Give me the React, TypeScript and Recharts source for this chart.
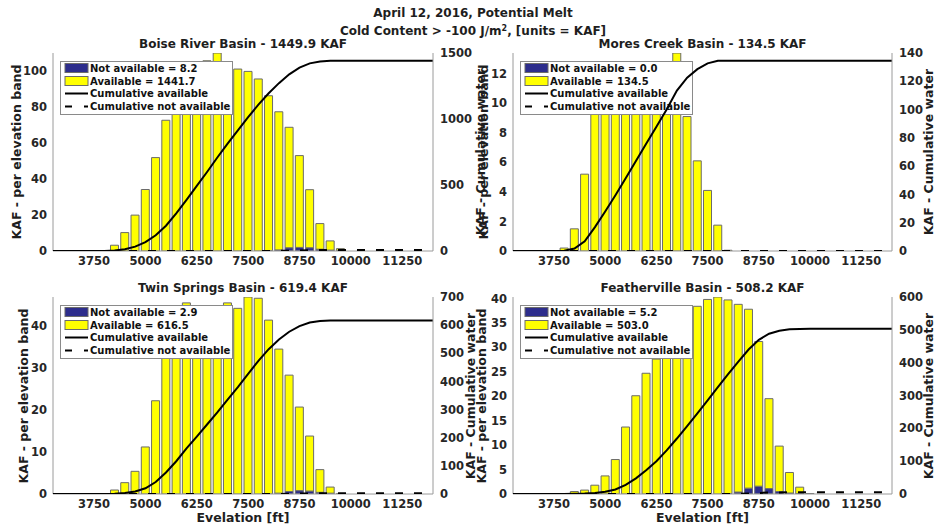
import React from "react";
import { ComposedChart, Bar, Line, XAxis, YAxis } from "recharts";

// elevation bands (ft), 250 ft steps
const ELEV = [2750, 3000, 3250, 3500, 3750, 4000, 4250, 4500, 4750, 5000, 5250, 5500, 5750, 6000, 6250, 6500, 6750, 7000, 7250, 7500, 7750, 8000, 8250, 8500, 8750, 9000, 9250, 9500, 9750, 10000, 10250, 10500, 10750, 11000, 11250, 11500, 11750, 12000];
const X_TICKS = [3750, 5000, 6250, 7500, 8750, 10000, 11250];

// Boise River
const BOISE_AVAIL = [0, 0, 0, 0, 0, 0, 3.2, 10.2, 19.9, 34.1, 51.8, 72.5, 94.1, 102, 105, 105.5, 109.8, 105, 100.9, 99.6, 95.4, 85.9, 76.6, 66.8, 50.9, 32.2, 14.2, 5.1, 1.0, 0, 0, 0, 0, 0, 0, 0, 0, 0];
const BOISE_NOT = [0, 0, 0, 0, 0, 0, 0, 0, 0, 0, 0, 0, 0, 0, 0, 0, 0, 0, 0, 0, 0, 0.2, 0.6, 1.8, 2.0, 1.8, 1.0, 0.5, 0.3, 0, 0, 0, 0, 0, 0, 0, 0, 0];
const BOISE_CUM = [0, 0, 0, 0, 0, 0, 3.2, 13.4, 33.3, 67.4, 119.2, 191.7, 285.8, 387.8, 492.8, 598.3, 708.1, 813.1, 914.0, 1013.6, 1109.0, 1194.9, 1271.5, 1338.3, 1389.2, 1421.4, 1435.6, 1440.7, 1441.7, 1441.7, 1441.7, 1441.7, 1441.7, 1441.7, 1441.7, 1441.7, 1441.7, 1441.7];
const BOISE_CUM_NOT = [0, 0, 0, 0, 0, 0, 0, 0, 0, 0, 0, 0, 0, 0, 0, 0, 0, 0, 0, 0, 0, 0.2, 0.8, 2.6, 4.6, 6.4, 7.4, 7.9, 8.2, 8.2, 8.2, 8.2, 8.2, 8.2, 8.2, 8.2, 8.2, 8.2];

// Mores Creek
const MORES_AVAIL = [0, 0, 0, 0, 0, 0.2, 1.5, 5.2, 10.0, 11.0, 11.5, 12.0, 12.2, 12.2, 12.0, 12.2, 13.4, 9.1, 6.1, 4.1, 1.75, 0.05, 0, 0, 0, 0, 0, 0, 0, 0, 0, 0, 0, 0, 0, 0, 0, 0];
const MORES_NOT = [0, 0, 0, 0, 0, 0, 0, 0, 0, 0, 0, 0, 0, 0, 0, 0, 0, 0, 0, 0, 0, 0, 0, 0, 0, 0, 0, 0, 0, 0, 0, 0, 0, 0, 0, 0, 0, 0];
const MORES_CUM = [0, 0, 0, 0, 0, 0.2, 1.7, 6.9, 16.9, 27.9, 39.4, 51.4, 63.6, 75.8, 87.8, 100.0, 113.4, 122.5, 128.6, 132.7, 134.45, 134.5, 134.5, 134.5, 134.5, 134.5, 134.5, 134.5, 134.5, 134.5, 134.5, 134.5, 134.5, 134.5, 134.5, 134.5, 134.5, 134.5];
const MORES_CUM_NOT = [0, 0, 0, 0, 0, 0, 0, 0, 0, 0, 0, 0, 0, 0, 0, 0, 0, 0, 0, 0, 0, 0, 0, 0, 0, 0, 0, 0, 0, 0, 0, 0, 0, 0, 0, 0, 0, 0];

// Twin Springs
const TWIN_AVAIL = [0, 0, 0, 0, 0, 0, 0.95, 2.7, 5.4, 11.2, 22.2, 34, 40, 45.5, 42, 43, 43, 45.5, 44.2, 46.9, 46.6, 41.4, 34.3, 27.7, 19.9, 13.1, 5.4, 1.45, 0.1, 0, 0, 0, 0, 0, 0, 0, 0, 0];
const TWIN_NOT = [0, 0, 0, 0, 0, 0, 0, 0, 0, 0, 0, 0, 0, 0, 0, 0, 0, 0, 0, 0, 0, 0, 0.2, 0.6, 0.8, 0.7, 0.4, 0.2, 0, 0, 0, 0, 0, 0, 0, 0, 0, 0];
const TWIN_CUM = [0, 0, 0, 0, 0, 0, 0.95, 3.65, 9.05, 20.25, 42.45, 76.45, 116.45, 161.95, 203.95, 246.95, 289.95, 335.45, 379.65, 426.55, 473.15, 514.55, 548.85, 576.55, 596.45, 609.55, 614.95, 616.4, 616.5, 616.5, 616.5, 616.5, 616.5, 616.5, 616.5, 616.5, 616.5, 616.5];
const TWIN_CUM_NOT = [0, 0, 0, 0, 0, 0, 0, 0, 0, 0, 0, 0, 0, 0, 0, 0, 0, 0, 0, 0, 0, 0, 0.2, 0.8, 1.6, 2.3, 2.7, 2.9, 2.9, 2.9, 2.9, 2.9, 2.9, 2.9, 2.9, 2.9, 2.9, 2.9];

// Featherville
const FEATHER_AVAIL = [0, 0, 0, 0, 0, 0, 0.5, 0.8, 1.8, 3.7, 7.05, 13.7, 20.1, 24.7, 27.6, 33, 36, 38, 38.4, 39.8, 40.3, 39.6, 38.4, 36.6, 29.6, 18.4, 9.3, 4.2, 1.3, 0.1, 0, 0, 0, 0, 0, 0, 0, 0];
const FEATHER_NOT = [0, 0, 0, 0, 0, 0, 0, 0, 0, 0, 0, 0, 0, 0, 0, 0, 0, 0, 0, 0, 0, 0.1, 0.4, 1.2, 1.6, 1.1, 0.5, 0.2, 0.1, 0, 0, 0, 0, 0, 0, 0, 0, 0];
const FEATHER_CUM = [0, 0, 0, 0, 0, 0, 0.5, 1.3, 3.1, 6.8, 13.85, 27.55, 47.65, 72.35, 99.95, 132.95, 168.95, 206.95, 245.35, 285.15, 325.45, 365.05, 403.45, 440.05, 469.65, 488.05, 497.35, 501.55, 502.85, 502.95, 502.95, 502.95, 502.95, 502.95, 502.95, 502.95, 502.95, 502.95];
const FEATHER_CUM_NOT = [0, 0, 0, 0, 0, 0, 0, 0, 0, 0, 0, 0, 0, 0, 0, 0, 0, 0, 0, 0, 0, 0.1, 0.5, 1.7, 3.3, 4.4, 4.9, 5.1, 5.2, 5.2, 5.2, 5.2, 5.2, 5.2, 5.2, 5.2, 5.2, 5.2];

const YELLOW = "#ffff00";
const NAVY = "#2d2d8c";
const EDGE = "#6b6b6b";
const AXIS = "#9a9a9a";
const FONT = "DejaVu Sans";
const TICK = { fill: "#262626", fontSize: 11.5, fontWeight: "bold", fontFamily: FONT };

const PANELS = [
  {
    title: "Boise River Basin - 1449.9 KAF", avail: BOISE_AVAIL, notAvail: BOISE_NOT, cum: BOISE_CUM, cumNot: BOISE_CUM_NOT,
    notText: "Not available = 8.2", availText: "Available = 1441.7",
    leftMax: 109.8, leftTicks: [0, 20, 40, 60, 80, 100], rightMax: 1500, rightTicks: [0, 500, 1000, 1500],
    left: 0, top: 0, width: 490, height: 270, plotL: 53, plotR: 433, plotT: 53, plotB: 251,
    leftLabelX: 17, rightLabelX: 481, xLabel: false,
  },
  {
    title: "Mores Creek Basin - 134.5 KAF", avail: MORES_AVAIL, notAvail: MORES_NOT, cum: MORES_CUM, cumNot: MORES_CUM_NOT,
    notText: "Not available = 0.0", availText: "Available = 134.5",
    leftMax: 13.4, leftTicks: [0, 2, 4, 6, 8, 10, 12], rightMax: 140, rightTicks: [0, 20, 40, 60, 80, 100, 120, 140],
    left: 460, top: 0, width: 477, height: 270, plotL: 513, plotR: 892, plotT: 53, plotB: 251,
    leftLabelX: 484, rightLabelX: 929, xLabel: false,
  },
  {
    title: "Twin Springs Basin - 619.4 KAF", avail: TWIN_AVAIL, notAvail: TWIN_NOT, cum: TWIN_CUM, cumNot: TWIN_CUM_NOT,
    notText: "Not available = 2.9", availText: "Available = 616.5",
    leftMax: 46.9, leftTicks: [0, 10, 20, 30, 40], rightMax: 700, rightTicks: [0, 100, 200, 300, 400, 500, 600, 700],
    left: 0, top: 270, width: 490, height: 258, plotL: 53, plotR: 433, plotT: 297, plotB: 494,
    leftLabelX: 24, rightLabelX: 471, xLabel: true,
  },
  {
    title: "Featherville Basin - 508.2 KAF", avail: FEATHER_AVAIL, notAvail: FEATHER_NOT, cum: FEATHER_CUM, cumNot: FEATHER_CUM_NOT,
    notText: "Not available = 5.2", availText: "Available = 503.0",
    leftMax: 40.3, leftTicks: [0, 5, 10, 15, 20, 25, 30, 35, 40], rightMax: 600, rightTicks: [0, 100, 200, 300, 400, 500, 600],
    left: 460, top: 270, width: 477, height: 258, plotL: 513, plotR: 892, plotT: 297, plotB: 494,
    leftLabelX: 482, rightLabelX: 929, xLabel: true,
  },
];

function Txt({ x, y, size = 12.5, rotate = false, children }: any) {
  return (
    <div
      style={{
        position: "absolute", left: x, top: y, whiteSpace: "nowrap", lineHeight: 1,
        transform: `translate(-50%, -50%)${rotate ? " rotate(-90deg)" : ""}`,
        fontFamily: FONT, fontWeight: "bold", fontSize: size, color: "#1e1e1e",
      }}
    >
      {children}
    </div>
  );
}

function LegendBox({ x, y, notText, availText }: any) {
  const ts = { fontFamily: FONT, fontWeight: "bold", fontSize: 10, fill: "#111" } as any;
  return (
    <svg width={174} height={55} style={{ position: "absolute", left: x, top: y }}>
      <rect x={0.5} y={0.5} width={172} height={53} fill="#fff" stroke="#8a8a8a" />
      <rect x={5} y={2.5} width={23} height={9} fill={NAVY} stroke={EDGE} />
      <text x={30} y={7} dominantBaseline="central" {...ts}>{notText}</text>
      <rect x={5} y={15.5} width={23} height={9} fill={YELLOW} stroke={EDGE} />
      <text x={30} y={20} dominantBaseline="central" {...ts}>{availText}</text>
      <line x1={5} x2={28} y1={32.5} y2={32.5} stroke="#000" strokeWidth={2} />
      <text x={30} y={32.5} dominantBaseline="central" {...ts}>Cumulative available</text>
      <line x1={5} x2={28} y1={45.5} y2={45.5} stroke="#000" strokeWidth={2} strokeDasharray="7 12" />
      <text x={30} y={45.5} dominantBaseline="central" {...ts}>Cumulative not available</text>
    </svg>
  );
}

function Panel({ p }: any) {
  const rows = ELEV.map((e, i) => ({
    elev: e, notAvail: p.notAvail[i], avail: p.avail[i], cum: p.cum[i], cumNot: p.cumNot[i],
  }));
  const W = p.width;
  const H = p.height;
  const pl = p.plotL - p.left;
  const pr = p.plotR - p.left;
  const pt = p.plotT - p.top;
  const pb = p.plotB - p.top;
  const xh = H - pb;
  const rw = W - pr;
  const midY = (p.plotT + p.plotB) / 2;

  return (
    <>
      {/* bars + left axis */}
      <div style={{ position: "absolute", left: p.left, top: p.top }}>
        <ComposedChart width={W} height={H} data={rows} margin={{ top: pt, right: rw, bottom: 0, left: 0 }}>
          <XAxis
            dataKey="elev" type="number" domain={[2750, 12000]} ticks={X_TICKS} interval={0} allowDataOverflow
            height={xh} tickLine={false} tickSize={4} tickMargin={2} stroke={AXIS} tick={TICK}
          />
          <YAxis
            yAxisId="l" orientation="left" width={pl} domain={[0, p.leftMax]} ticks={p.leftTicks} allowDataOverflow
            interval={0} tickLine={false} tickSize={4} tickMargin={2} stroke={AXIS} tick={TICK}
          />
          <Bar yAxisId="l" dataKey="notAvail" stackId="s" fill={NAVY} stroke={EDGE} strokeWidth={1} barSize={8} isAnimationActive={false} />
          <Bar yAxisId="l" dataKey="avail" stackId="s" fill={YELLOW} stroke={EDGE} strokeWidth={1} barSize={8} isAnimationActive={false} />
        </ComposedChart>
      </div>

      <LegendBox x={p.plotL + 7} y={p.plotT + 8} notText={p.notText} availText={p.availText} />

      {/* cumulative lines + right axis, drawn over the legend */}
      <div style={{ position: "absolute", left: p.left, top: p.top }}>
        <ComposedChart width={W} height={H} data={rows} margin={{ top: pt, right: 0, bottom: xh, left: pl }}>
          <XAxis dataKey="elev" type="number" domain={[2750, 12000]} allowDataOverflow hide height={0} />
          <YAxis
            yAxisId="r" orientation="right" width={rw} domain={[0, p.rightMax]} ticks={p.rightTicks} allowDataOverflow
            interval={0} tickLine={false} tickSize={4} tickMargin={3} stroke={AXIS} tick={TICK}
          />
          <Line yAxisId="r" type="linear" dataKey="cumNot" stroke="#000" strokeWidth={2} strokeDasharray="8 11" dot={false} isAnimationActive={false} />
          <Line yAxisId="r" type="linear" dataKey="cum" stroke="#000" strokeWidth={2} dot={false} isAnimationActive={false} />
        </ComposedChart>
      </div>

      <Txt x={(p.plotL + p.plotR) / 2} y={p.plotT - 9} size={12}>{p.title}</Txt>
      <Txt x={p.leftLabelX} y={midY} size={12.5} rotate>KAF - per elevation band</Txt>
      <Txt x={p.rightLabelX} y={midY} size={12.5} rotate>KAF - Cumulative water</Txt>
      {p.xLabel && <Txt x={(p.plotL + p.plotR) / 2} y={518} size={12.5}>Evelation [ft]</Txt>}
    </>
  );
}

export default function App() {
  return (
    <div style={{ position: "absolute", left: 0, top: 0, width: 937, height: 528, background: "#fff", overflow: "hidden" }}>
      {PANELS.map((p) => <Panel key={p.title} p={p} />)}
      <Txt x={473} y={13} size={12}>April 12, 2016, Potential Melt</Txt>
      <Txt x={473} y={31} size={12}>
        Cold Content &gt; -100 J/m<sup style={{ fontSize: 8, verticalAlign: "4px" }}>2</sup>, [units = KAF]
      </Txt>
    </div>
  );
}
